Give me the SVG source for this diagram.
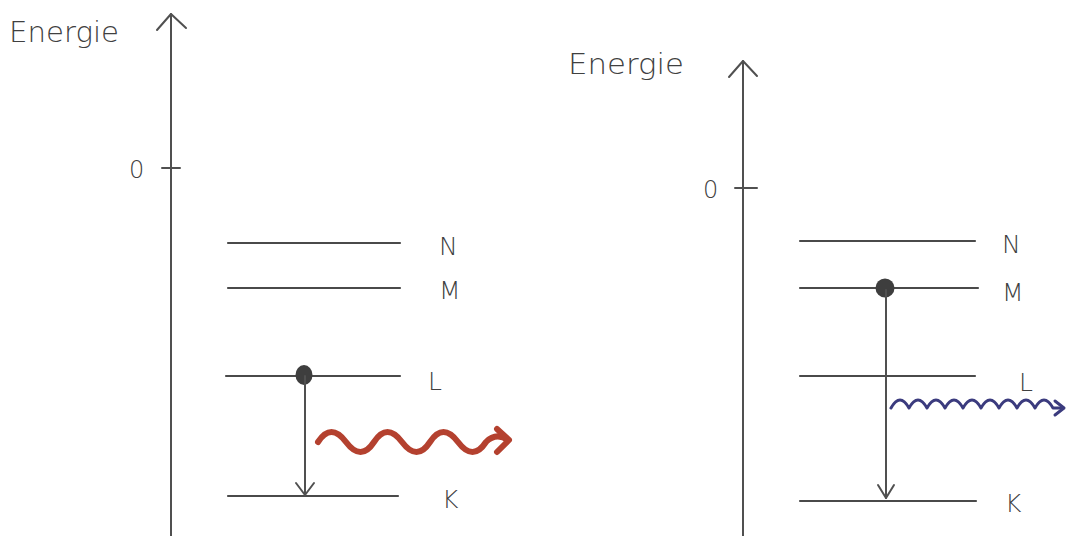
<svg xmlns="http://www.w3.org/2000/svg" width="1067" height="536" viewBox="0 0 1067 536">
<style>
.ln{stroke:#505050;stroke-width:2;fill:none;stroke-linecap:round;stroke-linejoin:round}
.lv{stroke:#4a4a4a;stroke-width:2.2;fill:none;stroke-linecap:round}
.t{font-family:"DejaVu Sans","Liberation Sans",sans-serif;font-weight:300;fill:#404040}
.lbl{font-size:25px}
.en{font-size:29px}
.dot{fill:#3e3e3e}
</style>
<rect width="1067" height="536" fill="#ffffff"/>

<g id="left-axis">
<line class="ln" x1="171" y1="536" x2="171" y2="14"/>
<polyline class="ln" points="157,30 171,14 186,28"/>
<line class="ln" x1="162" y1="168" x2="180" y2="168"/>
<text class="t" x="129" y="178" font-size="24">0</text>
<text class="t en" x="9" y="42" textLength="110" lengthAdjust="spacingAndGlyphs">Energie</text>
</g>

<g id="left-levels">
<line class="lv" x1="228" y1="243" x2="400" y2="243"/>
<line class="lv" x1="228" y1="288" x2="400" y2="288"/>
<line class="lv" x1="226" y1="376" x2="400" y2="376"/>
<line class="lv" x1="228" y1="496" x2="398" y2="496"/>
<text class="t lbl" x="439" y="255">N</text>
<text class="t lbl" x="439" y="299">M</text>
<text class="t lbl" x="428" y="390">L</text>
<text class="t lbl" x="442" y="508">K</text>
</g>

<g id="left-transition">
<ellipse class="dot" cx="304" cy="375" rx="8.5" ry="10"/>
<line class="ln" x1="305" y1="376" x2="305" y2="495"/>
<polyline class="ln" points="296,483 305,495 314,483"/>
<path d="M318,442 Q331,422 346,442 T374,442 T402,442 T430,442 T458,442 T486,442 Q496,432 508,440" fill="none" stroke="#b4412f" stroke-width="6" stroke-linecap="round" stroke-linejoin="round"/>
<polyline points="497,429 509,440 497,452" fill="none" stroke="#b4412f" stroke-width="6" stroke-linecap="round" stroke-linejoin="round"/>
</g>

<g id="right-axis">
<line class="ln" x1="743" y1="536" x2="743" y2="61"/>
<polyline class="ln" points="729,77 743,61 757,76"/>
<line class="ln" x1="735" y1="188" x2="757" y2="188"/>
<text class="t" x="703" y="198" font-size="24">0</text>
<text class="t en" x="568" y="74" textLength="116" lengthAdjust="spacingAndGlyphs">Energie</text>
</g>

<g id="right-levels">
<line class="lv" x1="800" y1="241" x2="975" y2="241"/>
<line class="lv" x1="800" y1="288" x2="978" y2="288"/>
<line class="lv" x1="800" y1="376" x2="975" y2="376"/>
<line class="lv" x1="800" y1="501" x2="976" y2="501"/>
<text class="t lbl" x="1002" y="253">N</text>
<text class="t lbl" x="1002" y="301">M</text>
<text class="t lbl" x="1019" y="391">L</text>
<text class="t lbl" x="1005" y="512">K</text>
</g>

<g id="right-transition">
<circle class="dot" cx="885" cy="288" r="9.5"/>
<line class="ln" x1="886" y1="290" x2="886" y2="498"/>
<polyline class="ln" points="878,485 886,498 894,485"/>
<path d="M891,408 Q900,392 909,408 Q918,392 927,408 Q936,392 945,408 Q954,392 963,408 Q972,392 981,408 Q990,392 999,408 Q1008,392 1017,408 Q1026,392 1035,408 Q1044,392 1053,408 L1063,408" fill="none" stroke="#3b3b7e" stroke-width="3" stroke-linecap="round" stroke-linejoin="round"/>
<polyline points="1055,401 1064,408 1055,415" fill="none" stroke="#3b3b7e" stroke-width="3" stroke-linecap="round" stroke-linejoin="round"/>
</g>
</svg>
